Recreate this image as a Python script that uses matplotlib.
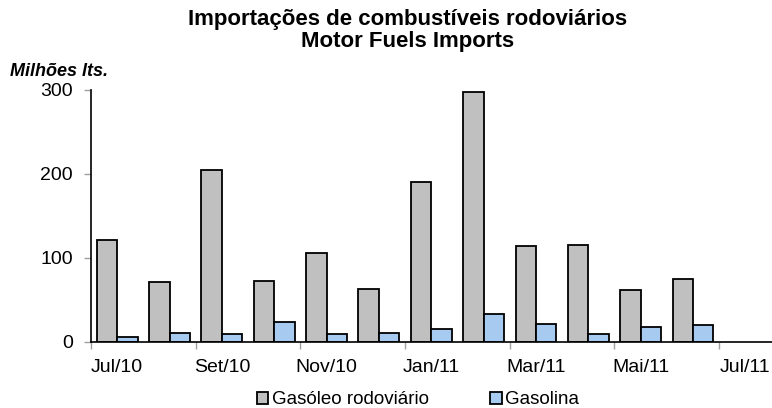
import numpy as np
import matplotlib
matplotlib.use("Agg")
import matplotlib.pyplot as plt
from matplotlib.ticker import FixedLocator

plt.rcParams['font.family'] = ['Liberation Sans', 'DejaVu Sans']

# Data (million litres)
months = ['Jul/10', 'Ago/10', 'Set/10', 'Out/10', 'Nov/10', 'Dez/10', 'Jan/11',
          'Fev/11', 'Mar/11', 'Abr/11', 'Mai/11', 'Jun/11', 'Jul/11']
gasoleo = [121, 71, 205, 73, 106, 63, 191, 298, 114, 116, 62, 75, np.nan]
gasolina = [6, 11, 9, 24, 9, 11, 15, 33, 22, 9, 18, 20, np.nan]

W, H = 772, 408
fig = plt.figure(figsize=(W / 100, H / 100), dpi=100)
ax = fig.add_axes([91 / W, (H - 342) / H, (771.5 - 91) / W, (342 - 90) / H])

x = np.arange(len(months))
bw = 0.39
ax.bar(x - bw / 2, gasoleo, bw, color='#C0C0C0', edgecolor='black', linewidth=1.3,
       label='Gasóleo rodoviário')
ax.bar(x + bw / 2, gasolina, bw, color='#A6CAF0', edgecolor='black', linewidth=1.3,
       label='Gasolina')

ax.set_xlim(-0.5, len(months) - 0.5)
ax.set_ylim(0, 300)
ax.set_yticks([0, 100, 200, 300])
ax.tick_params(axis='y', labelsize=14, length=5, color='#A0A0A0', width=1, pad=8)

# labels on every other month, tick marks at category boundaries
ax.xaxis.set_major_locator(FixedLocator(x[::2]))
ax.set_xticklabels(months[::2])
ax.xaxis.set_minor_locator(FixedLocator(np.arange(-0.5, len(months), 2)))
ax.tick_params(axis='x', which='major', length=0, labelsize=14, pad=12)
ax.tick_params(axis='x', which='minor', length=5, color='#A0A0A0', width=1)

for s in ['top', 'right']:
    ax.spines[s].set_visible(False)
ax.spines['left'].set_linewidth(1.2)
ax.spines['bottom'].set_linewidth(1.2)

fig.text(408 / W, 1 - 20 / H, 'Importações de combustíveis rodoviários',
         ha='center', va='center', fontsize=16, fontweight='bold')
fig.text(408 / W, 1 - 41 / H, 'Motor Fuels Imports',
         ha='center', va='center', fontsize=16, fontweight='bold')
fig.text(10 / W, 1 - 72 / H, 'Milhões lts.', ha='left', va='center',
         fontsize=13, fontweight='bold', fontstyle='italic')

fig.legend(loc='center', bbox_to_anchor=(418 / W, 1 - 400 / H), ncol=2,
           frameon=False, fontsize=13.5, handlelength=0.6, handleheight=0.6,
           handletextpad=0.2, columnspacing=3.3, borderpad=0)

fig.savefig('out.png', dpi=100)
